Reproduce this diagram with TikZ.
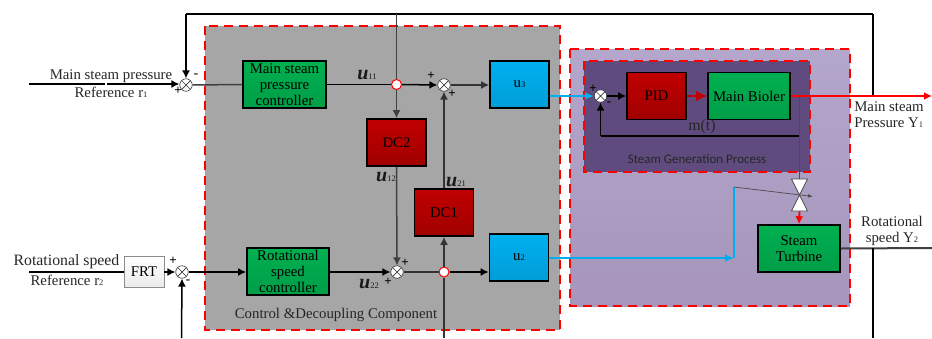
\documentclass[tikz,border=0pt]{standalone}
\usepackage{fontspec}
\setmainfont{Liberation Serif}
\newfontfamily\sansf{Carlito}
\usetikzlibrary{arrows.meta,calc}
\definecolor{reddash}{HTML}{FF0000}
\definecolor{cyanline}{HTML}{00AEEF}
\definecolor{greenA}{HTML}{00B050}
\definecolor{greenB}{HTML}{009E48}
\definecolor{redA}{HTML}{C00000}
\definecolor{redB}{HTML}{A00000}
\definecolor{blueA}{HTML}{00B0F0}
\definecolor{blueB}{HTML}{009DD6}
\definecolor{lpA}{HTML}{B3A7CB}
\definecolor{lpB}{HTML}{A795BB}
\definecolor{dpA}{HTML}{5F4B7D}
\tikzset{
  x=1pt,y=-1pt,
  txt/.style={font=\fontsize{14.8}{16}\selectfont,align=center,inner sep=0pt,text=black!85},
  bigtxt/.style={txt,font=\fontsize{15.8}{17}\selectfont},
  blockbox/.style={draw=black,line width=1.6pt,inner sep=0pt,align=center,font=\fontsize{14.8}{16}\selectfont,text=black},
  greenbox/.style={blockbox,top color=greenA,bottom color=greenB},
  redbox/.style={blockbox,top color=redA,bottom color=redB},
  bluebox/.style={blockbox,top color=blueA,bottom color=blueB},
  sumnode/.style={circle,draw=black!80,line width=.6pt,fill=white,minimum size=12.5pt,inner sep=0pt,
    path picture={\draw[black!80,line width=.7pt]
      (path picture bounding box.north west)--(path picture bounding box.south east)
      (path picture bounding box.north east)--(path picture bounding box.south west);}},
  tapnode/.style={circle,draw=reddash,line width=1pt,fill=white,minimum size=10pt,inner sep=0pt},
  regionbox/.style={draw=reddash,line width=1.8pt,dash pattern=on 9pt off 6pt},
  wire/.style={draw=black,line width=1.5pt},
  arrowwire/.style={wire,-{Latex[length=8pt,width=8pt]}},
  redwire/.style={draw=reddash,line width=1.8pt},
  bluewire/.style={draw=cyanline,line width=2.4pt},
  signlab/.style={inner sep=0pt,font=\fontsize{13}{13}\selectfont\bfseries,text=black},
  ulab/.style={inner sep=0pt,text=black!90,font=\fontsize{20}{20}\selectfont\bfseries\itshape},
  valvepart/.style={draw=black!70,line width=.7pt,fill=white},
}
\newcommand{\sbs}[1]{{\fontsize{8.5}{8.5}\selectfont\upshape\mdseries #1}}
\begin{document}
\begin{tikzpicture}
\useasboundingbox (0,0) rectangle (932,338);
% regions
\path[regionbox,fill=black!35] (205,26) rectangle (560,330);
\path[regionbox,top color=lpA,bottom color=lpB] (570,49) rectangle (850,306);
\path[regionbox,fill=dpA] (584,61) rectangle (810,172);
% blocks
\node[greenbox,minimum width=83pt,minimum height=47pt] (msc) at (284.5,84.5) {Main steam\\pressure\\controller};
\node[greenbox,minimum width=82pt,minimum height=47pt] (rsc) at (288,271.5) {Rotational\\speed\\controller};
\node[redbox,minimum width=59pt,minimum height=47pt] (dc2) at (396.5,142.5) {DC2};
\node[redbox,minimum width=59pt,minimum height=47pt] (dc1) at (444,212.5) {DC1};
\node[bluebox,minimum width=59pt,minimum height=47pt] (u3) at (519.5,84.5) {u\sbs{3}};
\node[bluebox,minimum width=59pt,minimum height=47pt] (u2) at (519,257.5) {u\sbs{2}};
\node[blockbox,draw=black!45,line width=.8pt,top color=white,bottom color=black!8,minimum width=40pt,minimum height=31pt] (frt) at (144,272) {FRT};
\node[redbox,minimum width=59pt,minimum height=47pt] (pid) at (656.5,96) {PID};
\node[greenbox,minimum width=82pt,minimum height=47pt] (boiler) at (749,96) {Main Bioler};
\node[greenbox,minimum width=82pt,minimum height=47pt] (turbine) at (799,248.5) {Steam\\Turbine};
% junctions
\node[sumnode] (s1) at (186,85) {};
\node[sumnode] (s2) at (182,272) {};
\node[sumnode] (s3) at (444,85) {};
\node[sumnode] (s4) at (397,272) {};
\node[sumnode] (s5) at (600.5,96) {};
\node[tapnode] (t1) at (396.5,84.5) {};
\node[tapnode] (t2) at (444,272) {};
% free ends
\coordinate (r1in) at (29,84);
\coordinate (r2in) at (29,272);
\coordinate (topin) at (396.5,14);
\coordinate (fbtl) at (186,14);
\coordinate (fbtr) at (873,14);
\coordinate (fbj) at (873,96);
\coordinate (y1out) at (932,96);
\coordinate (y2out) at (932,248);
\coordinate (fb2j) at (873,248);
\coordinate (fb2b) at (873,338);
\coordinate (dcin) at (444,338);
\coordinate (s2in) at (181.5,338);
\coordinate (boilj) at (799.5,96);
\coordinate (mj) at (799.5,136);
\coordinate (ml) at (600.5,136);
\coordinate (bluec) at (734,258);
\coordinate (bluet) at (734,187);
\coordinate (vc) at (799.5,195);
\coordinate (vt) at (799.5,179);
\coordinate (vb) at (799.5,211);
\coordinate (vend) at (813,196.5);
% wires
\draw[arrowwire] (r1in) -- (s1.west |- r1in);
\draw[white,line width=1.8pt] (106,82) -- (106,86);
\draw[wire] (fbtl) -- (fbtr);
\draw[arrowwire] (fbtl) -- (s1.north);
\draw[wire,draw=black!75] (s1.east) -- (msc.west);
\draw[wire] (msc.east) -- (t1.west);
\draw[arrowwire] (t1.east) -- (s3.west);
\draw[arrowwire,draw=black!80] (s3.east) -- (s3.east -| u3.west);
\draw[wire,draw=black!75] (topin) -- (t1.north);
\draw[arrowwire,draw=black!75] (t1.south) -- (dc2.north);
\draw[arrowwire,draw=black!75] (dc2.south) -- (s4.north);
\draw[arrowwire,draw=black!80] (dc1.north) -- (s3.south);
\draw[wire] (r2in) -- (frt.west);
\draw[arrowwire] (frt.east) -- (s2.west);
\draw[arrowwire] (s2.east) -- (s2.east -| rsc.west);
\draw[arrowwire] (s4.west -| rsc.east) -- (s4.west);
\draw[wire,draw=black!80] (s4.east) -- (t2.west);
\draw[arrowwire] (t2.east) -- (t2.east -| u2.west);
\draw[arrowwire,draw=black!80] (t2.north) -- (dc1.south);
\draw[wire,draw=black!80] (dcin) -- (t2.south);
\draw[arrowwire] (s2in) -- (s2.south);
\draw[bluewire,-{Latex[length=9pt,width=8pt]}] (u3.east |- s5) -- (s5.west);
\draw[arrowwire] (s5.east) -- (pid.west);
\draw[draw=redA,line width=2.6pt,-{Latex[length=11pt,width=11pt]}] (pid.east) -- (boiler.west);
\draw[wire] (mj) -- (ml);
\draw[arrowwire] (ml) -- (s5.south);
\draw[wire] (fbtr) -- (fbj);
\draw[redwire,-{Latex[length=8pt,width=8pt]}] (boiler.east) -- (y1out);
\draw[redwire] (boilj) -- (vt);
\draw[redwire,-{Latex[length=8pt,width=8pt]}] (vb) -- (turbine.north);
\draw[bluewire,-{Latex[length=9pt,width=8pt]}] (u2.east |- bluec) -- (bluec);
\draw[bluewire] (bluec) -- (bluet);
\draw[draw=black!70,line width=.7pt,-{Latex[length=5pt,width=3.5pt]}] (bluet) -- (vend);
\draw[draw=black!75,line width=2pt] (turbine.east) -- (y2out);
\draw[wire] (fb2j) -- (fb2b);
% valve
\path[valvepart] (791.5,179) -- (807.5,179) -- (vc) -- cycle;
\path[valvepart] (791.5,211) -- (807.5,211) -- (vc) -- cycle;
% labels
\node[txt] (l1) at (111,76) {Main steam pressure};
\node[txt] (l2) at (111,92) {Reference r\sbs{1}};
\node[bigtxt] (l3) at (66.5,262) {Rotational speed};
\node[txt] (l4) at (67,280) {Reference r\sbs{2}};
\node[txt] (l5) at (336,315) {Control \&Decoupling Component};
\node[bigtxt] (l6) at (702,127) {m(t)};
\node[inner sep=0pt,font=\sansf\fontsize{13}{14}\selectfont,text=black!85] (l7) at (697,159) {Steam Generation Process};
\node[txt,align=left] (l8) at (889,115) {Main steam\\Pressure Y\sbs{1}};
\node[txt] (l9) at (892,231) {Rotational\\speed Y\sbs{2}};
\node[ulab] (u11) at (367,75) {u\sbs{11}};
\node[ulab] (u12) at (386,177) {u\sbs{12}};
\node[ulab] (u21) at (456,182) {u\sbs{21}};
\node[ulab] (u22) at (369,284) {u\sbs{22}};
% signs
\node[signlab] at (196,76) {-};
\node[signlab] at (178,91) {+};
\node[signlab] at (173,261) {+};
\node[signlab] at (188,282) {-};
\node[signlab] at (431,76) {+};
\node[signlab] at (452,94) {+};
\node[signlab] at (405,263) {+};
\node[signlab] at (388,282) {+};
\node[signlab] at (593,89) {+};
\node[signlab] at (609,104) {-};
\end{tikzpicture}
\end{document}
